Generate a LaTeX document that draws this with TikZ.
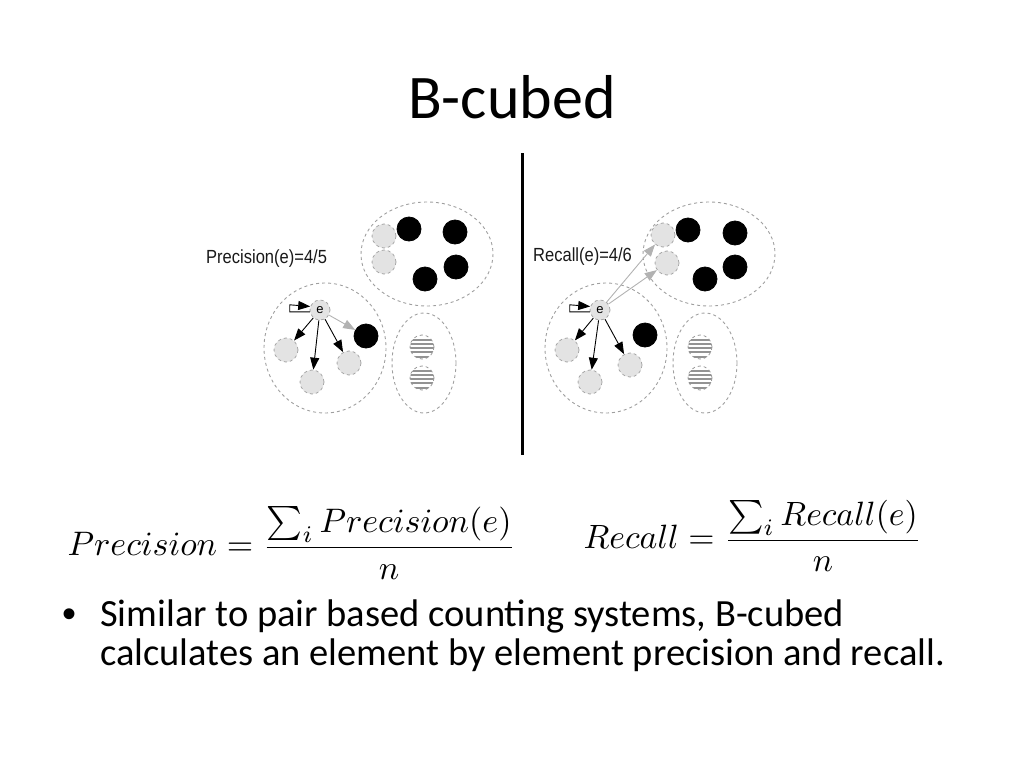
\documentclass[tikz,border=0pt]{standalone}
\usepackage{fontspec}
\setmainfont{Carlito}
\newfontfamily\labelfont{Liberation Sans}
\usetikzlibrary{arrows.meta}

\tikzset{
  cluster/.style={draw=gray!75,dashed,line width=0.9pt},
  dot/.style={circle,minimum size=24pt,inner sep=0pt,draw=gray!70,dashed,line width=0.8pt},
  lightdot/.style={dot,fill=gray!22},
  darkdot/.style={dot,fill=black,draw=black,solid},
  stripedot/.style={dot,draw=gray!80,path picture={
      \foreach \k in {-9.6,-5.4,...,10} \draw[solid,line width=2.1pt,gray!85]
        ([yshift=\k pt]path picture bounding box.west) -- ([yshift=\k pt]path picture bounding box.east);}},
  edot/.style={dot,minimum size=20pt,fill=gray!22,font=\labelfont\fontsize{13}{13}\selectfont},
  tip/.style={-{Triangle[length=12pt,width=9pt]},line width=0.9pt},
  greytip/.style={-{Triangle[length=12pt,width=9pt]},line width=0.9pt,gray!60},
  score/.style={font=\labelfont\fontsize{19}{19}\selectfont,xscale=0.87,text=gray!20!black,anchor=west,inner sep=0pt},
}

\begin{document}
\begin{tikzpicture}[x=1pt,y=-1pt]
  \useasboundingbox (0,0) rectangle (1024,768);
  \node[font=\fontsize{62}{72}\selectfont,anchor=base] (title) at (512,118) {B-cubed};

  % precision side
  \draw[cluster] (427,254) ellipse [x radius=66,y radius=52];
  \draw[cluster] (325,348) ellipse [x radius=61,y radius=65];
  \draw[cluster] (424,363) ellipse [x radius=32,y radius=50];
  \node[lightdot] (pa1) at (384,236) {};
  \node[lightdot] (pa2) at (384,262) {};
  \node[darkdot] (pa3) at (409,229) {};
  \node[darkdot] (pa4) at (455,232) {};
  \node[darkdot] (pa5) at (456,267) {};
  \node[darkdot] (pa6) at (425,279) {};
  \node[edot] (pe) at (320,310) {e};
  \node[lightdot] (pb1) at (286,350) {};
  \node[lightdot] (pb2) at (312,382) {};
  \node[lightdot] (pb3) at (349,363) {};
  \node[darkdot] (pb4) at (366,336) {};
  \node[stripedot] (pc1) at (422,347) {};
  \node[stripedot] (pc2) at (422,378) {};
  \draw[tip] (pe.190) -- ++(-20,0) -- ++(0,-7) -- (pe.160);
  \draw[tip] (pe) -- (pb1);
  \draw[tip] (pe) -- (pb2);
  \draw[tip] (pe) -- (pb3);
  \draw[greytip] (pe) -- (pb4);
  \node[score] (pscore) at (206,259) {Precision(e)=4/5};

  \draw[line width=3pt] (522,153) -- (522,455);

  % recall side
  \begin{scope}[xshift=280pt]
    \draw[cluster] (429,254) ellipse [x radius=66,y radius=52];
    \draw[cluster] (326,348) ellipse [x radius=61,y radius=65];
    \draw[cluster] (425,363) ellipse [x radius=32,y radius=50];
    \node[lightdot] (ra1) at (383,235) {};
    \node[lightdot] (ra2) at (387,263) {};
    \node[darkdot] (ra3) at (408,230) {};
    \node[darkdot] (ra4) at (455,233) {};
    \node[darkdot] (ra5) at (455,267) {};
    \node[darkdot] (ra6) at (425,279) {};
    \node[edot] (re) at (320,310) {e};
    \node[lightdot] (rb1) at (287,350) {};
    \node[lightdot] (rb2) at (310,382) {};
    \node[lightdot] (rb3) at (350,365) {};
    \node[darkdot] (rb4) at (365,335) {};
    \node[stripedot] (rc1) at (420,347) {};
    \node[stripedot] (rc2) at (420,378) {};
    \draw[tip] (re.190) -- ++(-20,0) -- ++(0,-7) -- (re.160);
    \draw[tip] (re) -- (rb1);
    \draw[tip] (re) -- (rb2);
    \draw[tip] (re) -- (rb3);
    \draw[greytip] (re) -- (ra1);
    \draw[greytip] (re) -- (ra2);
  \end{scope}
  \node[score] (rscore) at (533,257) {Recall(e)=4/6};

  % formulas
  \node[scale=3.4,anchor=west,inner sep=0pt] (prec) at (67,543)
    {$\displaystyle Precision = \frac{\sum_i Precision(e)}{n}$};
  \node[scale=3.37,anchor=west,inner sep=0pt] (rec) at (583,536)
    {$\displaystyle Recall = \frac{\sum_i Recall(e)}{n}$};

  % bullet
  \node[font=\labelfont\fontsize{40}{40}\selectfont,anchor=base,inner sep=0pt] (dot) at (70,627) {•};
  \node[font=\fontsize{38.5}{39}\selectfont,anchor=base west,align=left,inner sep=0pt] (text) at (100,665)
    {Similar to pair based counting systems, B-cubed\\calculates an element by element precision and recall.};
\end{tikzpicture}
\end{document}
